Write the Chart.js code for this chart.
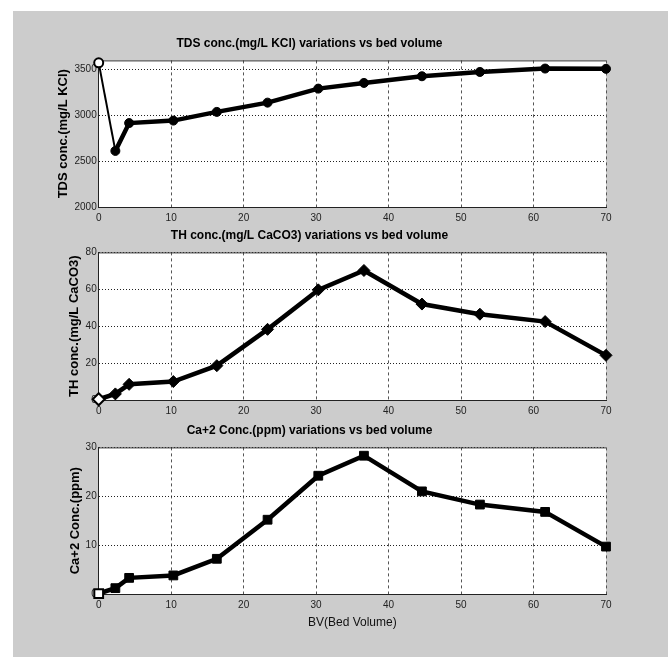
<!DOCTYPE html>
<html>
<head>
<meta charset="utf-8">
<script src="https://cdn.jsdelivr.net/npm/chart.js@4/dist/chart.umd.min.js"></script>
<style>
  body { margin: 0; background: #fff; }
  #fig { position: absolute; left: 13px; top: 11px; width: 655px; height: 646px; background: #cccccc; }
  #fig canvas { position: absolute; left: 0; }
</style>
</head>
<body>
<div id="fig">
  <canvas id="tds" width="655" height="191" style="top:25px"></canvas>
  <canvas id="th" width="655" height="192" style="top:217px"></canvas>
  <canvas id="ca" width="655" height="211" style="top:412px"></canvas>
</div>
<script>
// values
const bedVolume = [0, 2.3, 4.2, 10.3, 16.3, 23.3, 30.3, 36.6, 44.6, 52.6, 61.6, 70];
const tdsConc = [3573, 2612, 2916, 2943, 3038, 3139, 3292, 3354, 3427, 3474, 3511, 3508];
const thConc = [0.4, 3.3, 8.5, 10, 18.6, 38.3, 59.7, 70.2, 52, 46.5, 42.5, 24.2];
const caConc = [0.1, 1.2, 3.3, 3.8, 7.2, 15.2, 24.2, 28.3, 21, 18.3, 16.8, 9.7];

const xTicks = [0, 10, 20, 30, 40, 50, 60, 70];
const tdsTicks = [2000, 2500, 3000, 3500];
const thTicks = [0, 20, 40, 60, 80];
const caTicks = [0, 10, 20, 30];

const sans = "'Liberation Sans', Arial, sans-serif";

// white axes background + solid top edge like the matlab box
const axesBox = {
  id: 'axesBox',
  beforeDraw(chart) {
    const { ctx, chartArea: a } = chart;
    ctx.save();
    ctx.fillStyle = '#fff';
    ctx.fillRect(a.left, a.top, a.right - a.left, a.bottom - a.top);
    ctx.restore();
  },
  beforeDatasetsDraw(chart) {
    const { ctx, chartArea: a } = chart;
    ctx.save();
    ctx.strokeStyle = '#333';
    ctx.lineWidth = 1;
    ctx.beginPath();
    ctx.moveTo(a.left, a.top + 0.5);
    ctx.lineTo(a.right, a.top + 0.5);
    ctx.stroke();
    ctx.restore();
  }
};

function makeChart(id, title, yLabel, values, yTicks, yMax, marker, opts) {
  new Chart(document.getElementById(id), {
    type: 'line',
    data: {
      datasets: [{
        data: bedVolume.map((x, i) => ({ x: x, y: values[i] })),
        borderColor: '#000',
        borderWidth: 4.5,
        tension: 0,
        clip: false,
        pointStyle: marker.style,
        pointRadius: marker.radius,
        pointBorderColor: '#000',
        pointBorderWidth: values.map((v, i) => i === 0 ? 2 : 1),
        pointBackgroundColor: values.map((v, i) => i === 0 ? '#fff' : '#000'),
        segment: {
          borderWidth: c => (opts.thinFirst && c.p0DataIndex === 0) ? 2 : 4.5
        }
      }]
    },
    options: {
      responsive: false,
      animation: false,
      layout: { padding: { top: 0, right: 62, bottom: 0, left: 0 } },
      plugins: {
        legend: { display: false },
        tooltip: { enabled: false },
        title: {
          display: true,
          text: title,
          color: '#000',
          font: { family: sans, size: 12, weight: 'bold' },
          padding: { top: 0, bottom: 10 }
        }
      },
      scales: {
        x: {
          type: 'linear',
          min: 0,
          max: 70,
          afterBuildTicks: s => { s.ticks = xTicks.map(v => ({ value: v })); },
          afterFit: s => { s.height = opts.xHeight; },
          ticks: { color: '#222', font: { family: sans, size: 10 }, padding: 5, autoSkip: false, maxRotation: 0,
                   callback: v => String(v) },
          grid: { color: '#555', drawTicks: false },
          border: { color: '#222', width: 1, dash: [3, 3] },
          title: {
            display: !!opts.xTitle,
            text: opts.xTitle || '',
            color: '#111',
            font: { family: sans, size: 12 },
            padding: { top: 0, bottom: 4.5 }
          }
        },
        y: {
          min: yTicks[0],
          max: yMax,
          afterBuildTicks: s => { s.ticks = yTicks.map(v => ({ value: v })); },
          afterFit: s => { s.width = 85.7; },
          ticks: { color: '#222', font: { family: sans, size: 10 }, padding: 2, callback: v => String(v) },
          grid: { color: '#222', drawTicks: false },
          border: { color: '#222', width: 1, dash: [1, 2] },
          title: {
            display: true,
            text: yLabel,
            color: '#000',
            font: { family: sans, size: 13, weight: 'bold' },
            padding: { top: opts.yTitlePad, bottom: 0 }
          }
        }
      }
    },
    plugins: [axesBox]
  });
}

makeChart('tds', 'TDS conc.(mg/L KCl) variations vs bed volume', 'TDS conc.(mg/L KCl)',
  tdsConc, tdsTicks, 3600, { style: 'circle', radius: 4.5 },
  { xHeight: 20, yTitlePad: 43, thinFirst: true });

makeChart('th', 'TH conc.(mg/L CaCO3) variations vs bed volume', 'TH conc.(mg/L CaCO3)',
  thConc, thTicks, 80, { style: 'rectRot', radius: 6 },
  { xHeight: 20, yTitlePad: 54 });

makeChart('ca', 'Ca+2 Conc.(ppm) variations vs bed volume', 'Ca+2 Conc.(ppm)',
  caConc, caTicks, 30, { style: 'rect', radius: 6.2 },
  { xHeight: 40, yTitlePad: 55, xTitle: 'BV(Bed Volume)' });
</script>
</body>
</html>
